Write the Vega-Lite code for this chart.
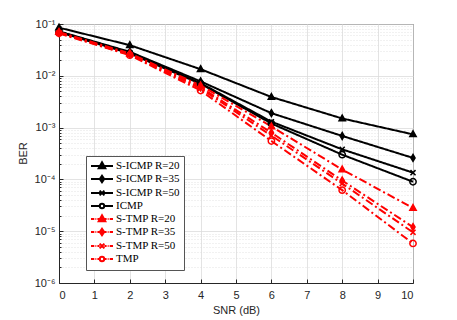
{
  "$schema": "https://vega.github.io/schema/vega-lite/v6.json",
  "width": 354,
  "height": 259,
  "autosize": {"type": "none"},
  "padding": {"left": 59, "top": 24, "right": 44, "bottom": 37},
  "background": "white",
  "config": {
    "view": {"stroke": "#262626", "strokeWidth": 1},
    "axis": {
      "labelFont": "Liberation Sans", "labelFontSize": 11, "labelColor": "#262626",
      "titleFont": "Liberation Sans", "titleFontSize": 11, "titleColor": "#262626", "titleFontWeight": "normal",
      "domainColor": "#262626", "tickColor": "#262626", "gridColor": "#dcdcdc", "gridWidth": 0.8
    }
  },
  "data": {"values": [
    {"snr": 0, "ber": 0.085, "series": "S-ICMP R=20"},
    {"snr": 2, "ber": 0.039, "series": "S-ICMP R=20"},
    {"snr": 4, "ber": 0.0134, "series": "S-ICMP R=20"},
    {"snr": 6, "ber": 0.0039, "series": "S-ICMP R=20"},
    {"snr": 8, "ber": 0.0015, "series": "S-ICMP R=20"},
    {"snr": 10, "ber": 0.00074, "series": "S-ICMP R=20"},
    {"snr": 0, "ber": 0.072, "series": "S-ICMP R=35"},
    {"snr": 2, "ber": 0.029, "series": "S-ICMP R=35"},
    {"snr": 4, "ber": 0.0078, "series": "S-ICMP R=35"},
    {"snr": 6, "ber": 0.0019, "series": "S-ICMP R=35"},
    {"snr": 8, "ber": 0.00069, "series": "S-ICMP R=35"},
    {"snr": 10, "ber": 0.00026, "series": "S-ICMP R=35"},
    {"snr": 0, "ber": 0.071, "series": "S-ICMP R=50"},
    {"snr": 2, "ber": 0.028, "series": "S-ICMP R=50"},
    {"snr": 4, "ber": 0.0072, "series": "S-ICMP R=50"},
    {"snr": 6, "ber": 0.0013, "series": "S-ICMP R=50"},
    {"snr": 8, "ber": 0.00038, "series": "S-ICMP R=50"},
    {"snr": 10, "ber": 0.000135, "series": "S-ICMP R=50"},
    {"snr": 0, "ber": 0.07, "series": "ICMP"},
    {"snr": 2, "ber": 0.027, "series": "ICMP"},
    {"snr": 4, "ber": 0.007, "series": "ICMP"},
    {"snr": 6, "ber": 0.0012, "series": "ICMP"},
    {"snr": 8, "ber": 0.0003, "series": "ICMP"},
    {"snr": 10, "ber": 0.00009, "series": "ICMP"},
    {"snr": 0, "ber": 0.07, "series": "S-TMP R=20"},
    {"snr": 2, "ber": 0.027, "series": "S-TMP R=20"},
    {"snr": 4, "ber": 0.0065, "series": "S-TMP R=20"},
    {"snr": 6, "ber": 0.00105, "series": "S-TMP R=20"},
    {"snr": 8, "ber": 0.000155, "series": "S-TMP R=20"},
    {"snr": 10, "ber": 0.000028, "series": "S-TMP R=20"},
    {"snr": 0, "ber": 0.068, "series": "S-TMP R=35"},
    {"snr": 2, "ber": 0.026, "series": "S-TMP R=35"},
    {"snr": 4, "ber": 0.006, "series": "S-TMP R=35"},
    {"snr": 6, "ber": 0.0008, "series": "S-TMP R=35"},
    {"snr": 8, "ber": 0.000095, "series": "S-TMP R=35"},
    {"snr": 10, "ber": 0.000012, "series": "S-TMP R=35"},
    {"snr": 0, "ber": 0.067, "series": "S-TMP R=50"},
    {"snr": 2, "ber": 0.0255, "series": "S-TMP R=50"},
    {"snr": 4, "ber": 0.0057, "series": "S-TMP R=50"},
    {"snr": 6, "ber": 0.0007, "series": "S-TMP R=50"},
    {"snr": 8, "ber": 0.000083, "series": "S-TMP R=50"},
    {"snr": 10, "ber": 0.0000095, "series": "S-TMP R=50"},
    {"snr": 0, "ber": 0.066, "series": "TMP"},
    {"snr": 2, "ber": 0.025, "series": "TMP"},
    {"snr": 4, "ber": 0.0052, "series": "TMP"},
    {"snr": 6, "ber": 0.00055, "series": "TMP"},
    {"snr": 8, "ber": 0.000062, "series": "TMP"},
    {"snr": 10, "ber": 0.0000058, "series": "TMP"}
  ]},
  "encoding": {
    "x": {"field": "snr", "type": "quantitative",
      "scale": {"domain": [0, 10], "nice": false},
      "axis": {"values": [0,1,2,3,4,5,6,7,8,9,10], "title": "SNR (dB)", "tickSize": -4, "labelPadding": 10, "titlePadding": 4}},
    "y": {"field": "ber", "type": "quantitative",
      "scale": {"type": "log", "domain": [0.000001, 0.1], "nice": false},
      "axis": {
        "title": "BER", "titleX": -31, "titleY": 129,
        "values": [0.000001,0.000002,0.000003,0.000004,0.000005,0.000006,0.000007,0.000008,0.000009,
                   0.00001,0.00002,0.00003,0.00004,0.00005,0.00006,0.00007,0.00008,0.00009,
                   0.0001,0.0002,0.0003,0.0004,0.0005,0.0006,0.0007,0.0008,0.0009,
                   0.001,0.002,0.003,0.004,0.005,0.006,0.007,0.008,0.009,
                   0.01,0.02,0.03,0.04,0.05,0.06,0.07,0.08,0.09,0.1],
        "labelExpr": "abs(log(datum.value)/LN10 - round(log(datum.value)/LN10)) < 0.001 ? '10' + ['⁰','⁻¹','⁻²','⁻³','⁻⁴','⁻⁵','⁻⁶'][-round(log(datum.value)/LN10)] : ''",
        "gridDash": {"condition": {"test": "abs(log(datum.value)/LN10 - round(log(datum.value)/LN10)) < 0.001", "value": []}, "value": [1, 2]},
        "tickSize": {"condition": {"test": "abs(log(datum.value)/LN10 - round(log(datum.value)/LN10)) < 0.001", "value": -4}, "value": -2},
        "labelPadding": 8
      }}
  },
  "layer": [
    {
      "mark": {"type": "line", "strokeWidth": 2},
      "encoding": {
        "color": {"field": "series", "type": "nominal", "legend": null,
          "scale": {"domain": ["S-ICMP R=20","S-ICMP R=35","S-ICMP R=50","ICMP","S-TMP R=20","S-TMP R=35","S-TMP R=50","TMP"],
                    "range": ["#000000","#000000","#000000","#000000","#ff0000","#ff0000","#ff0000","#ff0000"]}},
        "strokeDash": {"field": "series", "type": "nominal", "legend": null,
          "scale": {"domain": ["S-ICMP R=20","S-ICMP R=35","S-ICMP R=50","ICMP","S-TMP R=20","S-TMP R=35","S-TMP R=50","TMP"],
                    "range": [[1,0],[1,0],[1,0],[1,0],[8,3,2,3],[8,3,2,3],[8,3,2,3],[8,3,2,3]]}}
      }
    },
    {
      "mark": {"type": "point", "strokeWidth": 1.5, "opacity": 1, "size": 40},
      "encoding": {
        "shape": {"field": "series", "type": "nominal", "legend": null,
          "scale": {"domain": ["S-ICMP R=20","S-ICMP R=35","S-ICMP R=50","ICMP","S-TMP R=20","S-TMP R=35","S-TMP R=50","TMP"],
                    "range": ["M0,-1.1L1,0.7H-1Z","M0,-1.1L0.65,0L0,1.1L-0.65,0Z","M-0.8,-0.8L0.8,0.8M-0.8,0.8L0.8,-0.8","circle","M0,-1.1L1,0.7H-1Z","M0,-1.1L0.65,0L0,1.1L-0.65,0Z","M-0.8,-0.8L0.8,0.8M-0.8,0.8L0.8,-0.8","circle"]}},
        "fill": {"field": "series", "type": "nominal", "legend": null,
          "scale": {"domain": ["S-ICMP R=20","S-ICMP R=35","S-ICMP R=50","ICMP","S-TMP R=20","S-TMP R=35","S-TMP R=50","TMP"],
                    "range": ["#000000","#000000","#000000","transparent","#ff0000","#ff0000","#ff0000","transparent"]}},
        "stroke": {"field": "series", "type": "nominal", "legend": null,
          "scale": {"domain": ["S-ICMP R=20","S-ICMP R=35","S-ICMP R=50","ICMP","S-TMP R=20","S-TMP R=35","S-TMP R=50","TMP"],
                    "range": ["#000000","#000000","#000000","#000000","#ff0000","#ff0000","#ff0000","#ff0000"]}}
      }
    },
    {
      "mark": {"type": "point", "strokeWidth": 2, "opacity": 0},
      "encoding": {
        "shape": {"field": "series", "type": "nominal",
          "scale": {"domain": ["S-ICMP R=20","S-ICMP R=35","S-ICMP R=50","ICMP","S-TMP R=20","S-TMP R=35","S-TMP R=50","TMP"],
                    "range": [
                      "M-2.2,0H2.2M0,-0.75L0.66,0.44H-0.66Z",
                      "M-2.2,0H2.2M0,-0.66L0.44,0L0,0.66L-0.44,0Z",
                      "M-2.2,0H2.2M-0.48,-0.48L0.48,0.48M-0.48,0.48L0.48,-0.48",
                      "M-2.2,0H-0.44M0.44,0H2.2M0.44,0A0.44,0.44 0 1,1 -0.44,0A0.44,0.44 0 1,1 0.44,0Z",
                      "M-2.2,0H-1.54M-1.32,0H-1.14M-0.92,0H-0.55M0.55,0H0.92M1.14,0H1.32M1.54,0H2.2M0,-0.75L0.66,0.44H-0.66Z",
                      "M-2.2,0H-1.54M-1.32,0H-1.14M-0.92,0H-0.44M0.44,0H0.92M1.14,0H1.32M1.54,0H2.2M0,-0.66L0.44,0L0,0.66L-0.44,0Z",
                      "M-2.2,0H-1.54M-1.32,0H-1.14M-0.92,0H-0.48M0.48,0H0.92M1.14,0H1.32M1.54,0H2.2M-0.48,-0.48L0.48,0.48M-0.48,0.48L0.48,-0.48",
                      "M-2.2,0H-1.54M-1.32,0H-1.14M-0.92,0H-0.44M0.44,0H0.92M1.14,0H1.32M1.54,0H2.2M0.44,0A0.44,0.44 0 1,1 -0.44,0A0.44,0.44 0 1,1 0.44,0Z"
                    ]},
          "legend": {"title": null, "orient": "none", "legendX": 27, "legendY": 132,
            "symbolSize": 100, "symbolStrokeWidth": 2, "symbolOpacity": 1, "symbolOffset": 6,
            "labelFont": "Liberation Serif", "labelFontSize": 11, "labelColor": "#000000",
            "strokeColor": "#555555", "fillColor": "white", "padding": 4, "rowPadding": -3, "labelOffset": 8}},
        "fill": {"field": "series", "type": "nominal",
          "scale": {"domain": ["S-ICMP R=20","S-ICMP R=35","S-ICMP R=50","ICMP","S-TMP R=20","S-TMP R=35","S-TMP R=50","TMP"],
                    "range": ["#000000","#000000","#000000","#ffffff","#ff0000","#ff0000","#ff0000","#ffffff"]}},
        "stroke": {"field": "series", "type": "nominal",
          "scale": {"domain": ["S-ICMP R=20","S-ICMP R=35","S-ICMP R=50","ICMP","S-TMP R=20","S-TMP R=35","S-TMP R=50","TMP"],
                    "range": ["#000000","#000000","#000000","#000000","#ff0000","#ff0000","#ff0000","#ff0000"]}}
      }
    }
  ],
  "resolve": {"scale": {"shape": "independent", "fill": "independent", "stroke": "independent"}, "legend": {"shape": "independent", "fill": "independent", "stroke": "independent"}}
}
